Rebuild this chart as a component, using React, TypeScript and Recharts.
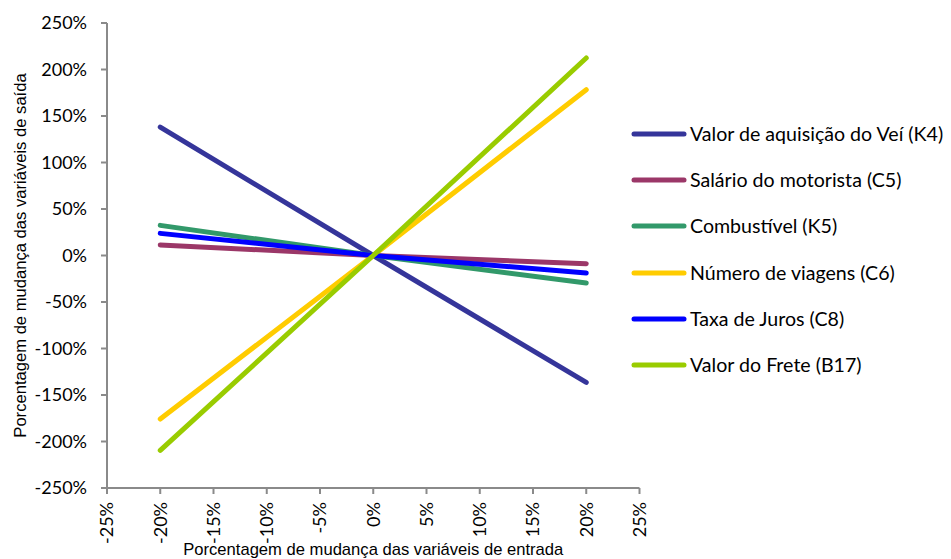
import React from 'react';
import { LineChart, Line, XAxis, YAxis, Label, Legend } from 'recharts';

// Input variation (%) applied to each variable
const inputChange = [-20, 0, 20];

// Output variation (%) for each input variable
const aquisicaoVeiculo = [138, 0, -136.5];
const salarioMotorista = [11.3, 0, -8.8];
const combustivel = [32.4, 0, -29.6];
const numeroViagens = [-175.8, 0, 178.3];
const taxaJuros = [23.8, 0, -18.8];
const valorFrete = [-209.6, 0, 212.4];

// Axis ticks
const xTicks = [-25, -20, -15, -10, -5, 0, 5, 10, 15, 20, 25];
const yTicks = [-250, -200, -150, -100, -50, 0, 50, 100, 150, 200, 250];

const seriesNames = [
  'Valor de aquisição do Veí (K4)',
  'Salário do motorista (C5)',
  'Combustível (K5)',
  'Número de viagens (C6)',
  'Taxa de Juros (C8)',
  'Valor do Frete (B17)',
];
const seriesKeys = ['aquisicao', 'salario', 'combustivel', 'viagens', 'juros', 'frete'];
const seriesValues = [aquisicaoVeiculo, salarioMotorista, combustivel, numeroViagens, taxaJuros, valorFrete];
const seriesColors = ['#35359A', '#9B3768', '#32996A', '#FFCC00', '#0000FF', '#99CC00'];

const data = inputChange.map((x, i) => {
  const row: Record<string, number> = { x };
  seriesKeys.forEach((k, s) => {
    row[k] = seriesValues[s][i];
  });
  return row;
});

const AXIS_GREY = '#8A8A8A';
const TICK_FONT = 'Lato, "Open Sans", sans-serif';
const TITLE_FONT = '"Liberation Sans", Arial, sans-serif';

const pct = (v: number) => `${v}%`;

const XTick = (props: any) => {
  const { x, y, payload } = props;
  return (
    <text
      x={x}
      y={y}
      transform={`rotate(-90, ${x}, ${y})`}
      textAnchor="end"
      dy="0.35em"
      fill="#000"
      fontSize={18}
      fontFamily={TICK_FONT}
    >
      {pct(payload.value)}
    </text>
  );
};

const YTitle = (props: any) => {
  const { x, y, height } = props.viewBox;
  const cx = x + 26;
  const cy = y + height / 2;
  return (
    <text
      x={cx}
      y={cy}
      transform={`rotate(-90, ${cx}, ${cy})`}
      textAnchor="middle"
      fill="#000"
      fontSize={16.6}
      fontFamily={TITLE_FONT}
    >
      Porcentagem de mudança das variáveis de saída
    </text>
  );
};

const XTitle = (props: any) => {
  const { x, y, width } = props.viewBox;
  return (
    <text
      x={x + width / 2}
      y={y + 67}
      textAnchor="middle"
      fill="#000"
      fontSize={16.6}
      fontFamily={TITLE_FONT}
    >
      Porcentagem de mudança das variáveis de entrada
    </text>
  );
};

const LegendContent = () => (
  <div>
    {seriesNames.map((name, i) => (
      <div key={name} style={{ height: 46.2, display: 'flex', alignItems: 'center' }}>
        <svg width={56} height={10} style={{ display: 'block' }}>
          <line x1={3} y1={5} x2={53} y2={5} stroke={seriesColors[i]} strokeWidth={5} strokeLinecap="round" />
        </svg>
        <span
          style={{
            marginLeft: 3,
            fontFamily: TICK_FONT,
            fontSize: 19.6,
            color: '#000',
            whiteSpace: 'nowrap',
            lineHeight: '22px',
          }}
        >
          {name}
        </span>
      </div>
    ))}
  </div>
);

export default function App() {
  return (
    <div style={{ position: 'absolute', left: 0, top: 0, background: '#fff' }}>
      <LineChart
        width={951}
        height={559}
        data={data}
        margin={{ top: 23, right: 311.5, left: 0, bottom: 0 }}
      >
        <XAxis
          dataKey="x"
          type="number"
          domain={[-25, 25]}
          ticks={xTicks}
          interval={0}
          height={71}
          stroke={AXIS_GREY}
          strokeWidth={2}
          tickLine={{ stroke: AXIS_GREY, strokeWidth: 2 }}
          tickSize={6}
          tickMargin={8}
          tick={<XTick />}
        >
          <Label content={<XTitle />} />
        </XAxis>
        <YAxis
          type="number"
          domain={[-250, 250]}
          ticks={yTicks}
          interval={0}
          width={107}
          stroke={AXIS_GREY}
          strokeWidth={2}
          tickLine={{ stroke: AXIS_GREY, strokeWidth: 2 }}
          tickSize={6}
          tickMargin={14}
          tickFormatter={pct}
          tick={{ fill: '#000', fontSize: 18, fontFamily: TICK_FONT }}
        >
          <Label content={<YTitle />} />
        </YAxis>
        <Legend
          layout="vertical"
          align="center"
          verticalAlign="middle"
          wrapperStyle={{ left: 631, top: 111, width: 320, right: 'auto', bottom: 'auto' }}
          content={<LegendContent />}
        />
        {seriesKeys.map((k, i) => (
          <Line
            key={k}
            dataKey={k}
            name={seriesNames[i]}
            type="linear"
            stroke={seriesColors[i]}
            strokeWidth={5}
            strokeLinecap="round"
            dot={false}
            activeDot={false}
            isAnimationActive={false}
          />
        ))}
      </LineChart>
    </div>
  );
}
